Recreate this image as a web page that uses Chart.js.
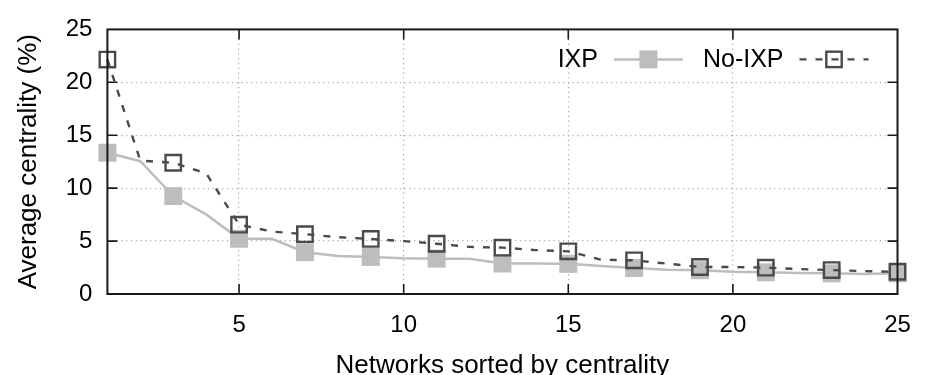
<!DOCTYPE html>
<html>
<head>
<meta charset="utf-8">
<script src="https://cdn.jsdelivr.net/npm/chart.js@4.4.1/dist/chart.umd.min.js"></script>
<style>
html,body{margin:0;padding:0;background:#fff;overflow:hidden;}
#wrap{position:relative;width:939px;height:375px;}
</style>
</head>
<body>
<div id="wrap"><canvas id="c"></canvas></div>
<script>
// ---- data ----
const networks = [1,2,3,4,5,6,7,8,9,10,11,12,13,14,15,16,17,18,19,20,21,22,23,24,25];
const ixp   = [13.35,12.55,9.25,7.52,5.22,5.22,3.95,3.6,3.5,3.38,3.34,3.32,2.88,2.87,2.85,2.64,2.45,2.3,2.25,2.1,2.05,1.98,1.95,1.9,1.95];
const noIxp = [22.15,12.6,12.4,11.4,6.55,5.9,5.65,5.37,5.2,5.0,4.75,4.45,4.38,4.15,4.03,3.24,3.18,2.87,2.55,2.55,2.49,2.36,2.26,2.16,2.1];
const seriesNames = ['IXP', 'No-IXP'];
const xTicks = [5,10,15,20,25];
const yTicks = [0,5,10,15,20,25];
const xTitle = 'Networks sorted by centrality';
const yTitle = 'Average centrality (%)';

const FONT = "'Liberation Sans', Arial, Helvetica, sans-serif";
const IXP_COLOR = '#bdbdbd';
const NOIXP_COLOR = '#4a4a4a';

const toPoints = arr => networks.map((n, i) => ({x: n, y: arr[i]}));
const oddOnly = r => ctx => (ctx.raw && ctx.raw.x % 2 === 1) ? r : 0;

const framePlugin = {
  id: 'frame',
  afterDatasetsDraw(chart) {
    const {ctx, chartArea: a, scales: {x, y}} = chart;
    ctx.save();
    ctx.strokeStyle = '#1a1a1a';
    ctx.lineWidth = 2;
    ctx.setLineDash([]);
    ctx.strokeRect(a.left, a.top, a.right - a.left, a.bottom - a.top);
    ctx.lineWidth = 1.6;
    const L = 10;
    ctx.beginPath();
    xTicks.forEach(v => {
      if (v <= x.min || v >= x.max) return;
      const p = x.getPixelForValue(v);
      ctx.moveTo(p, a.bottom); ctx.lineTo(p, a.bottom - L);
      ctx.moveTo(p, a.top); ctx.lineTo(p, a.top + L);
    });
    yTicks.forEach(v => {
      if (v <= y.min || v >= y.max) return;
      const p = y.getPixelForValue(v);
      ctx.moveTo(a.left, p); ctx.lineTo(a.left + L, p);
      ctx.moveTo(a.right, p); ctx.lineTo(a.right - L, p);
    });
    ctx.stroke();
    ctx.restore();
  }
};

const keyPlugin = {
  id: 'key',
  afterDraw(chart) {
    const {ctx, chartArea: a} = chart;
    const ds = chart.data.datasets;
    const cy = a.top + 30;
    const sampleW = 69;
    let right = a.right - 29;
    ctx.save();
    ctx.font = '25px ' + FONT;
    ctx.textAlign = 'right';
    ctx.textBaseline = 'middle';
    for (let i = ds.length - 1; i >= 0; i--) {
      const d = ds[i];
      const x0 = right - sampleW, x1 = right;
      ctx.strokeStyle = d.borderColor;
      ctx.lineWidth = d.borderWidth;
      ctx.setLineDash(d.borderDash || []);
      ctx.beginPath(); ctx.moveTo(x0, cy); ctx.lineTo(x1, cy); ctx.stroke();
      ctx.setLineDash([]);
      const mx = (x0 + x1) / 2;
      if (d.keyFilled) {
        const s = 18;
        ctx.fillStyle = d.pointBackgroundColor;
        ctx.fillRect(mx - s / 2, cy - s / 2, s, s);
      } else {
        const s = 15.4;
        ctx.strokeStyle = d.pointBorderColor;
        ctx.lineWidth = d.pointBorderWidth;
        ctx.strokeRect(mx - s / 2, cy - s / 2, s, s);
      }
      ctx.fillStyle = '#000';
      const tEnd = x0 - 16;
      ctx.fillText(d.label, tEnd, cy + 1);
      right = tEnd - ctx.measureText(d.label).width - 20;
    }
    ctx.restore();
  }
};

new Chart(document.getElementById('c'), {
  type: 'line',
  data: {
    datasets: [
      {
        label: seriesNames[0],
        data: toPoints(ixp),
        borderColor: IXP_COLOR,
        backgroundColor: IXP_COLOR,
        borderWidth: 2.5,
        tension: 0,
        pointStyle: 'rect',
        pointRadius: oddOnly(12.7),
        pointHoverRadius: oddOnly(12.7),
        pointBorderWidth: 0,
        pointBackgroundColor: IXP_COLOR,
        pointBorderColor: IXP_COLOR,
        keyFilled: true,
        clip: false,
        order: 1
      },
      {
        label: seriesNames[1],
        data: toPoints(noIxp),
        borderColor: NOIXP_COLOR,
        backgroundColor: 'rgba(0,0,0,0)',
        borderWidth: 2.4,
        borderDash: [7, 9],
        tension: 0,
        pointStyle: 'rect',
        pointRadius: oddOnly(10.9),
        pointHoverRadius: oddOnly(10.9),
        pointBorderWidth: 2.4,
        pointBackgroundColor: 'rgba(0,0,0,0)',
        pointBorderColor: NOIXP_COLOR,
        keyFilled: false,
        clip: false,
        order: 0
      }
    ]
  },
  options: {
    responsive: true,
    maintainAspectRatio: false,
    animation: false,
    devicePixelRatio: 1,
    layout: {padding: {top: 27, right: 41.5, left: 0, bottom: 0}},
    plugins: {legend: {display: false}, tooltip: {enabled: false}},
    scales: {
      x: {
        type: 'linear',
        min: 1, max: 25,
        afterBuildTicks: s => { s.ticks = xTicks.map(v => ({value: v})); },
        afterFit: s => { s.height = 81; },
        ticks: {color: '#000', font: {family: FONT, size: 24}, padding: 17, maxRotation: 0, autoSkip: false},
        grid: {color: '#a8a8a8', lineWidth: 1.2, drawTicks: false},
        border: {display: false, dash: [1.2, 3.6]},
        title: {display: true, text: xTitle, color: '#000', font: {family: FONT, size: 26, lineHeight: 1}, padding: {top: 0, bottom: -4}}
      },
      y: {
        type: 'linear',
        min: 0, max: 25,
        afterBuildTicks: s => { s.ticks = yTicks.map(v => ({value: v})); },
        afterFit: s => { s.width = 107.4; },
        ticks: {color: '#000', font: {family: FONT, size: 24}, padding: 15},
        grid: {color: '#a8a8a8', lineWidth: 1.2, drawTicks: false},
        border: {display: false, dash: [1.2, 3.6]},
        title: {display: true, text: yTitle, color: '#000', font: {family: FONT, size: 26, lineHeight: 1}, padding: {top: 16, bottom: 0}}
      }
    }
  },
  plugins: [framePlugin, keyPlugin]
});
</script>
</body>
</html>
